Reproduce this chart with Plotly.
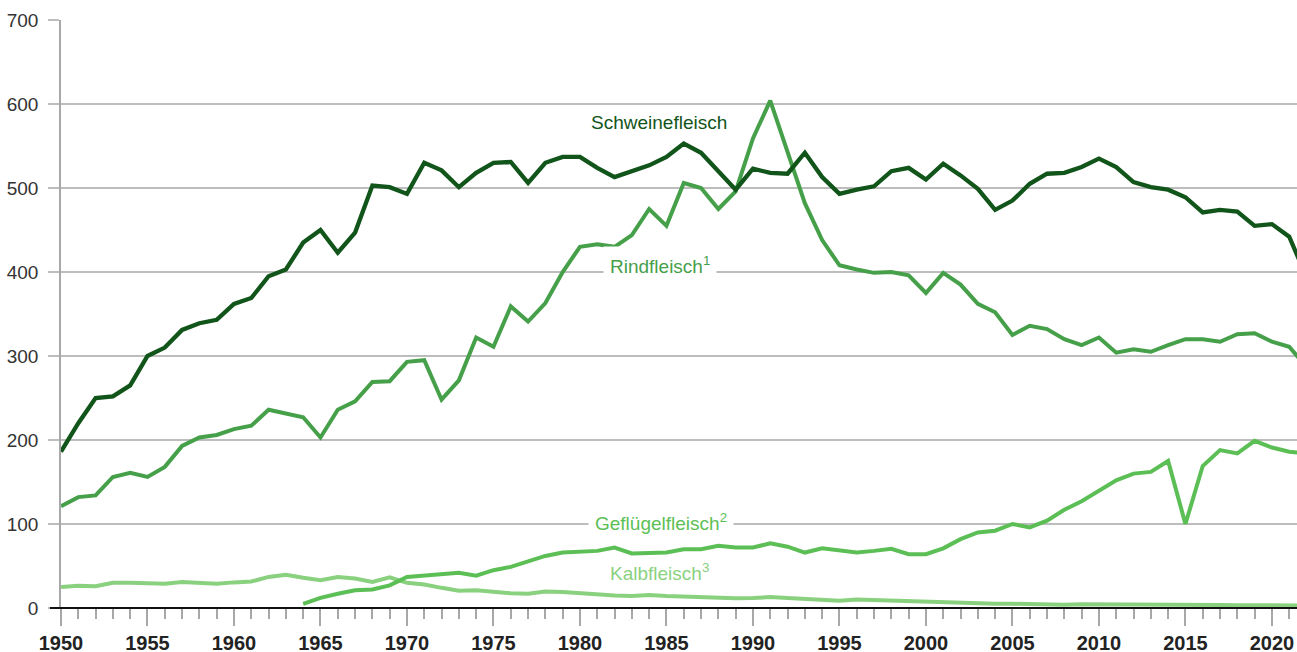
import plotly.graph_objects as go

years = list(range(1950, 2023))

schweinefleisch = [186, 220, 250, 252, 265, 300, 310, 331, 339, 343,
                   362, 369, 395, 403, 435, 450, 423, 447, 503, 501,
                   493, 530, 521, 501, 518, 530, 531, 506, 530, 537,
                   537, 524, 513, 520, 527, 537, 553, 542, 520, 498,
                   523, 518, 517, 542, 513, 493, 498, 502, 520, 524,
                   510, 529, 515, 499, 474, 485, 505, 517, 518, 525,
                   535, 525, 507, 501, 498, 489, 471, 474, 472, 455,
                   457, 442, 394]

rindfleisch = [121, 132, 134, 156, 161, 156, 168, 193, 203, 206,
               213, 217, 236, 231, 227, 203, 236, 246, 269, 270,
               293, 295, 248, 271, 322, 311, 359, 341, 363, 400,
               430, 433, 430, 444, 475, 455, 506, 500, 475, 496,
               559, 604, 543, 482, 438, 408, 403, 399, 400, 396,
               375, 399, 385, 362, 352, 325, 336, 332, 320, 313,
               322, 304, 308, 305, 313, 320, 320, 317, 326, 327,
               317, 311, 287]

gefluegelfleisch = [None] * 14 + [
    5, 12, 17, 21, 22, 27,
    37, 38.5, 40, 42, 38.5, 45, 49, 56, 62, 66,
    67, 68, 72, 65, 65.5, 66, 70, 70, 74, 72,
    72, 77, 73, 66, 71, 69, 66, 68, 70.5, 64,
    64, 71, 82, 90, 92, 100, 96, 104, 117, 127,
    139, 152, 160, 162, 175, 100, 169, 188, 184, 199,
    191, 186, 184]

kalbfleisch = [25, 26.5, 26, 30, 30, 29.5, 29, 31, 30, 29,
               30.5, 31.5, 37, 39.5, 36, 33, 37, 35, 31, 36.5,
               30, 28, 24, 20.5, 21, 19, 17.5, 17, 19.5, 19,
               17.5, 16.3, 15, 14.3, 15.5, 14.3, 13.5, 13.5, 12.3, 11.5,
               12, 13, 12, 10.7, 9.5, 8.7, 10, 9.3, 8.5, 8,
               7.5, 7, 6, 5.5, 5, 5, 4.5, 4, 4, 4.5,
               4.5, 4.5, 4.3, 4, 4, 3.8, 3.5, 3.5, 3.3, 3.2,
               3.2, 3, 3]

x_tick_vals = list(range(1950, 2021, 5))
x_tick_text = [str(v) for v in x_tick_vals]
y_tick_vals = list(range(0, 701, 100))

labels = [
    ("Schweinefleisch", 1984.55, 578, "#11551a", False),
    ("Rindfleisch<sup>1</sup>", 1984.6, 408, "#46a04a", True),
    ("Geflügelfleisch<sup>2</sup>", 1984.7, 102, "#5cbf55", True),
    ("Kalbfleisch<sup>3</sup>", 1984.6, 42.5, "#8ad17f", False),
]

C_SCH = "#11551a"
C_RIND = "#46a04a"
C_GEF = "#5cbf55"
C_KALB = "#8ad17f"

FONT = "Liberation Sans, Arial, sans-serif"

fig = go.Figure()
fig.add_trace(go.Scatter(x=years, y=kalbfleisch, mode="lines",
                         line=dict(color=C_KALB, width=4), name="Kalbfleisch"))
fig.add_trace(go.Scatter(x=years, y=gefluegelfleisch, mode="lines",
                         line=dict(color=C_GEF, width=4), name="Geflügelfleisch"))
fig.add_trace(go.Scatter(x=years, y=rindfleisch, mode="lines",
                         line=dict(color=C_RIND, width=4), name="Rindfleisch"))
fig.add_trace(go.Scatter(x=years, y=schweinefleisch, mode="lines",
                         line=dict(color=C_SCH, width=4.3), name="Schweinefleisch"))

for text, xv, yv, col, bg in labels:
    fig.add_annotation(x=xv, y=yv, text=text, showarrow=False,
                       font=dict(family=FONT, size=19, color=col),
                       bgcolor="white" if bg else "rgba(0,0,0,0)",
                       borderpad=6, xanchor="center", yanchor="middle")

# black baseline extending slightly left of the y axis
fig.add_shape(type="line", xref="paper", yref="paper",
              x0=-11 / 1236, x1=1, y0=0, y1=0,
              line=dict(color="#111111", width=2), layer="above")

fig.update_layout(
    width=1297, height=652,
    margin=dict(l=61, r=0, t=20, b=44, autoexpand=False),
    paper_bgcolor="white", plot_bgcolor="white",
    showlegend=False,
    font=dict(family=FONT, size=19, color="#333333"),
    xaxis=dict(
        range=[1950, 2021.45],
        tickmode="array", tickvals=x_tick_vals, ticktext=x_tick_text,
        ticks="outside", ticklen=17, tickwidth=1.5, tickcolor="#a8a8a8",
        tickfont=dict(family=FONT, size=20, color="#222222", weight="bold"),
        minor=dict(dtick=1, tick0=1950, ticks="outside", ticklen=10,
                   tickwidth=1.5, tickcolor="#a8a8a8", showgrid=False),
        showgrid=False, zeroline=False,
        showline=False, automargin=False,
        ticklabelstandoff=0,
    ),
    yaxis=dict(
        range=[0, 700.01],
        tickmode="array", tickvals=y_tick_vals,
        ticks="outside", ticklen=11, tickwidth=1.5, tickcolor="#bdbdbd",
        showgrid=True, gridcolor="#bdbdbd", gridwidth=1.5,
        zeroline=False, automargin=False,
        showline=True, linecolor="#a8a8a8", linewidth=1.5,
        tickfont=dict(family=FONT, size=19, color="#333333"),
        ticklabelstandoff=6,
    ),
)

fig.write_html("out.html",
               config={"displayModeBar": False},
               post_script="document.body.style.margin='0';document.body.style.overflow='hidden';")
